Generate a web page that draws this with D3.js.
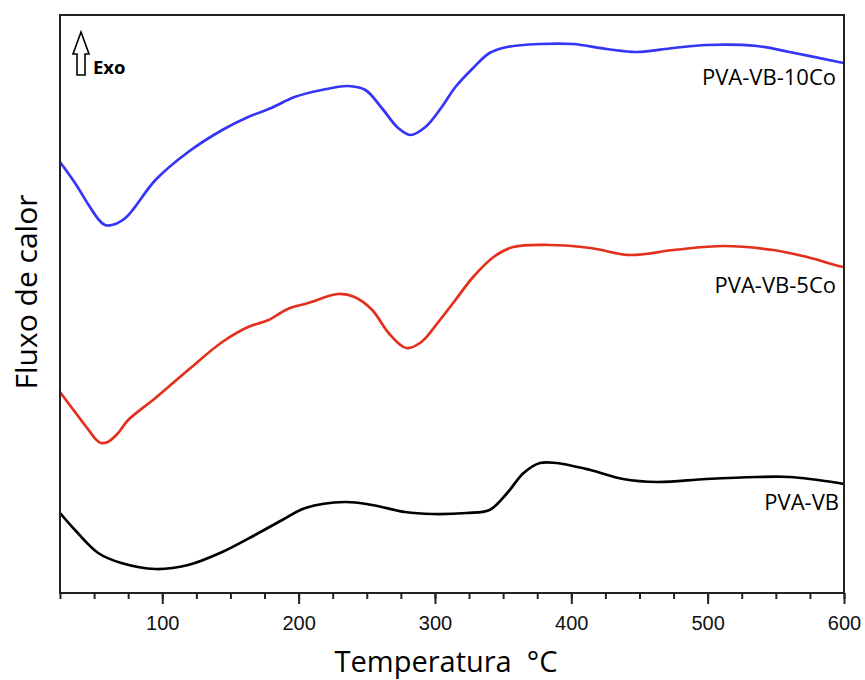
<!DOCTYPE html>
<html>
<head>
<meta charset="utf-8">
<script src="https://cdn.jsdelivr.net/npm/d3@7"></script>
<style>
  body { margin: 0; background: #fff; }
  svg { display: block; }
</style>
</head>
<body>
<svg id="chart" width="865" height="680"></svg>
<script>
// ---- data (temperature °C, heat flow in arbitrary units) ----
const seriesNames = ["PVA-VB-10Co", "PVA-VB-5Co", "PVA-VB"];
const seriesColors = ["#3535f5", "#e3301c", "#000000"];

const temp10Co = [25, 36, 46, 53, 58, 63, 73, 95, 119, 144, 163, 180, 197, 217, 236, 249, 261, 273, 282, 293, 305, 315, 328, 340, 353, 377, 401, 426, 448, 475, 499, 536, 560, 596, 600];
const flow10Co = [431, 410, 388, 374, 368, 368, 375, 413, 441, 463, 476, 485, 496, 503, 507, 503, 485, 465, 458, 466, 486, 506, 525, 540, 546, 549, 549, 544, 541, 545, 548, 547, 541, 531, 530];

const temp5Co = [25, 36, 46, 51, 55, 60, 67, 75, 95, 119, 144, 163, 178, 192, 207, 229, 241, 254, 266, 279, 290, 302.5, 315, 328, 343, 357.5, 384, 414, 443, 475, 511.5, 548, 573, 596, 600];
const flow5Co = [201, 181, 163, 154, 150, 151, 159, 173, 195, 223, 251, 266, 273, 284, 290, 299, 296, 283, 260, 245, 251, 271, 293, 316, 336, 346, 348, 345, 338, 343, 347, 343, 336, 327, 326];

const tempVB = [25, 36, 53, 70, 95, 119, 144, 168, 188, 205, 234, 254, 278, 298, 323, 340, 353, 365, 377, 389, 414, 438, 463, 499, 536, 560, 596, 600];
const flowVB = [80, 63, 40, 30, 24, 28, 41, 58, 73, 85, 91, 88, 81, 79, 80, 83, 100, 120, 130, 130, 123, 114, 111, 114, 116, 116, 110, 109];

const xMajorTicks = [100, 200, 300, 400, 500, 600];
const xDomain = [25, 600];
const yDomain = [0, 578];

const xTitle = "Temperatura\u00A0\u00A0\u00B0C";
const yTitle = "Fluxo de calor";
const exoLabel = "Exo";

// ---- layout ----
const svg = d3.select("#chart");
const mLeft = 60, mRight = 844, mTop = 15, mBottom = 593;

const x = d3.scaleLinear().domain(xDomain).range([mLeft, mRight]);
const y = d3.scaleLinear().domain(yDomain).range([mBottom, mTop]);

const series = [
  { name: seriesNames[0], color: seriesColors[0], t: temp10Co, v: flow10Co },
  { name: seriesNames[1], color: seriesColors[1], t: temp5Co, v: flow5Co },
  { name: seriesNames[2], color: seriesColors[2], t: tempVB, v: flowVB }
];

const line = d3.line()
  .x(d => x(d[0]))
  .y(d => y(d[1]))
  .curve(d3.curveCatmullRom.alpha(0.5));

const plot = svg.append("g");
plot.append("defs").append("clipPath").attr("id", "clip")
  .append("rect").attr("x", mLeft).attr("y", mTop).attr("width", mRight - mLeft).attr("height", mBottom - mTop);

series.forEach(s => {
  const pts = s.t.map((t, i) => [t, s.v[i]]);
  plot.append("path")
    .attr("clip-path", "url(#clip)")
    .attr("d", line(pts))
    .attr("fill", "none")
    .attr("stroke", s.color)
    .attr("stroke-width", 2.7)
    .attr("stroke-linejoin", "round")
    .attr("stroke-linecap", "round");
});

// ---- frame ----
svg.append("rect")
  .attr("x", mLeft).attr("y", mTop)
  .attr("width", mRight - mLeft).attr("height", mBottom - mTop)
  .attr("fill", "none").attr("stroke", "#222").attr("stroke-width", 2);

// ---- x axis ----
const xAxisMinor = d3.axisBottom(x).tickValues(d3.range(25, 601, 25)).tickSize(6).tickFormat("");
const xAxisMajor = d3.axisBottom(x).tickValues(xMajorTicks).tickSize(11).tickPadding(12).tickFormat(d3.format("d"));

const gMinor = svg.append("g").attr("transform", `translate(0,${mBottom})`).call(xAxisMinor);
gMinor.select(".domain").remove();
gMinor.selectAll("line").attr("stroke", "#222").attr("stroke-width", 2);

const gMajor = svg.append("g").attr("transform", `translate(0,${mBottom})`).call(xAxisMajor);
gMajor.select(".domain").remove();
gMajor.selectAll("line").attr("stroke", "#222").attr("stroke-width", 2);
gMajor.selectAll("text")
  .attr("font-family", "'Liberation Sans', Arial, sans-serif")
  .attr("font-size", 20)
  .attr("fill", "#111");

// ---- titles ----
svg.append("text")
  .attr("x", 446).attr("y", 672)
  .attr("text-anchor", "middle")
  .attr("font-family", "'Open Sans', sans-serif")
  .attr("font-size", 29)
  .attr("fill", "#000")
  .text(xTitle);

svg.append("text")
  .attr("transform", "translate(37,292) rotate(-90)")
  .attr("text-anchor", "middle")
  .attr("font-family", "'Open Sans', sans-serif")
  .attr("font-size", 30)
  .attr("fill", "#000")
  .text(yTitle);

// ---- series labels ----
const labelPos = [
  { x: 836, y: 85 },
  { x: 836, y: 293 },
  { x: 839, y: 510 }
];
series.forEach((s, i) => {
  svg.append("text")
    .attr("x", labelPos[i].x).attr("y", labelPos[i].y)
    .attr("text-anchor", "end")
    .attr("font-family", "'Open Sans', sans-serif")
    .attr("font-size", 22)
    .attr("fill", "#000")
    .text(s.name);
});

// ---- Exo arrow ----
const arrow = d3.path();
arrow.moveTo(81, 32);
arrow.lineTo(89, 54);
arrow.lineTo(85, 54);
arrow.lineTo(85, 75);
arrow.lineTo(77, 75);
arrow.lineTo(77, 54);
arrow.lineTo(73, 54);
arrow.closePath();
svg.append("path").attr("d", arrow.toString())
  .attr("fill", "#fff").attr("stroke", "#000").attr("stroke-width", 1.6).attr("stroke-linejoin", "miter");

svg.append("text")
  .attr("x", 93).attr("y", 74)
  .attr("font-family", "'Open Sans', sans-serif")
  .attr("font-weight", "bold")
  .attr("font-size", 18.5)
  .attr("fill", "#000")
  .text(exoLabel);
</script>
</body>
</html>
